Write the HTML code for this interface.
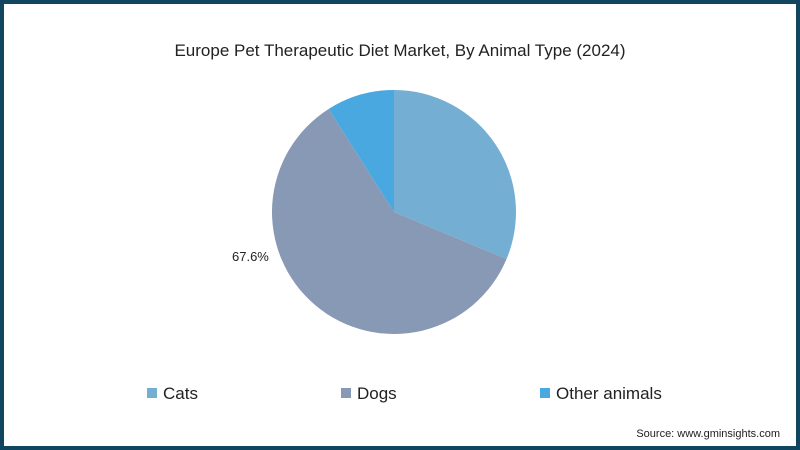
<!DOCTYPE html>
<html><head><meta charset="utf-8"><style>
body{margin:0;width:800px;height:450px;overflow:hidden;background:#fff;font-family:"Liberation Sans",sans-serif}
#frame{position:absolute;left:0;top:0;width:792px;height:442px;border:4px solid #10465f;background:#fff}
</style></head><body>
<div id="frame"></div>
<svg width="800" height="450" style="position:absolute;left:0;top:0">
<text x="400" y="56" text-anchor="middle" font-size="17" fill="#222">Europe Pet Therapeutic Diet Market, By Animal Type (2024)</text>
<g id="slices"></g>
<text x="232" y="261" font-size="13" fill="#222">67.6%</text>
<g>
<rect x="147" y="388" width="10" height="10" fill="#74afd3"/>
<text x="163" y="399" font-size="17" fill="#222">Cats</text>
<rect x="341" y="388" width="10" height="10" fill="#8899b5"/>
<text x="357" y="399" font-size="17" fill="#222">Dogs</text>
<rect x="540" y="388" width="10" height="10" fill="#4aa8e0"/>
<text x="556" y="399" font-size="17" fill="#222">Other animals</text>
</g>
<text x="780" y="437" text-anchor="end" font-size="11" fill="#222">Source: www.gminsights.com</text>
</svg>
<script>
const categories=["Cats","Dogs","Other animals"];
const values=[31.3,59.7,9.0];
const colors=["#74afd3","#8899b5","#4aa8e0"];
const cx=394,cy=212,r=122;
const g=document.getElementById('slices');
const total=values.reduce((a,b)=>a+b,0);
let a0=0;
values.forEach((v,i)=>{
  const a1=a0+v/total*2*Math.PI;
  const x0=cx+r*Math.sin(a0),y0=cy-r*Math.cos(a0),x1=cx+r*Math.sin(a1),y1=cy-r*Math.cos(a1);
  const p=document.createElementNS('http://www.w3.org/2000/svg','path');
  p.setAttribute('d',`M${cx},${cy}L${x0},${y0}A${r},${r} 0 ${a1-a0>Math.PI?1:0} 1 ${x1},${y1}Z`);
  p.setAttribute('fill',colors[i]);
  
  
  g.appendChild(p);
  a0=a1;
});
</script>
</body></html>
